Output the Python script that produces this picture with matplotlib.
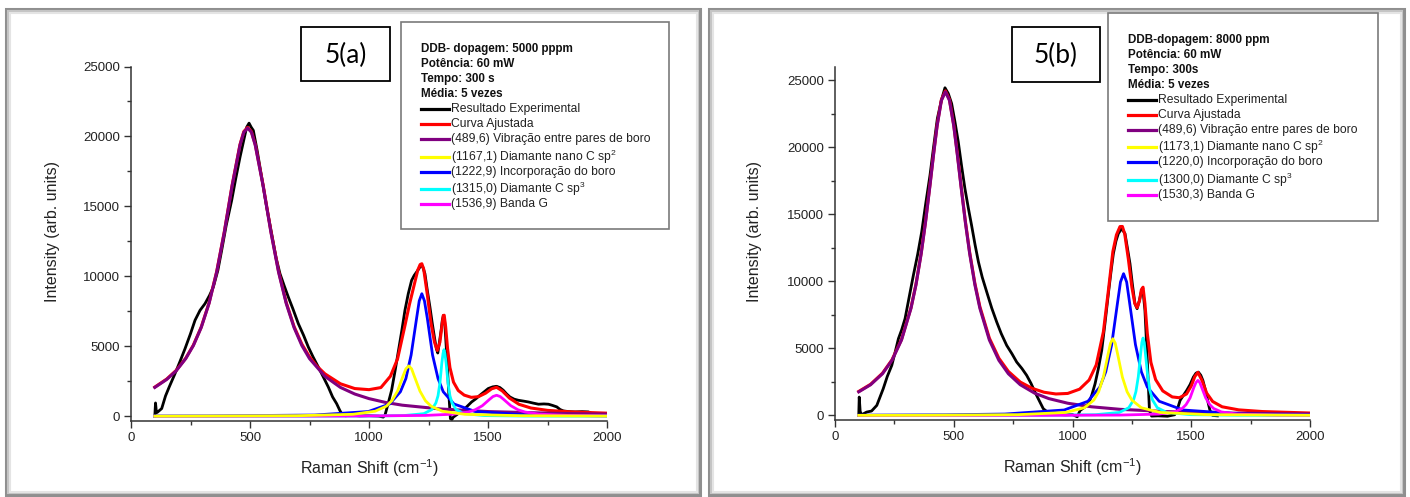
import matplotlib
matplotlib.use('Agg')
import matplotlib.pyplot as plt
from matplotlib.patches import Rectangle
from matplotlib.lines import Line2D
from matplotlib.ticker import MultipleLocator

plt.rcParams['font.family'] = ['Liberation Sans', 'DejaVu Sans']
plt.rcParams['mathtext.fontset'] = 'custom'
plt.rcParams['mathtext.rm'] = 'Liberation Sans'
plt.rcParams['mathtext.it'] = 'Liberation Sans:italic'
plt.rcParams['mathtext.bf'] = 'Liberation Sans:bold'

# ---------------- 5(a) : 5000 ppm ----------------
xa_exp = [100, 103, 107, 112, 129, 145, 160, 185, 205, 227,
          250, 269, 290, 311, 330, 346, 365, 381, 400, 423,
          440, 458, 475, 486, 496, 505, 514, 530, 549, 570,
          591, 610, 626, 643, 661, 680, 703, 725, 745, 765,
          787, 808, 829, 847, 864, 877, 885, 900, 930, 960,
          1000, 1040, 1060, 1067, 1080, 1095, 1110, 1124, 1138, 1151,
          1165, 1179, 1190, 1200, 1210, 1218, 1226, 1235, 1245, 1256,
          1266, 1277, 1283, 1289, 1296, 1303, 1308, 1313, 1318, 1322,
          1328, 1333, 1338, 1342, 1348, 1354, 1375, 1403, 1431, 1450,
          1466, 1485, 1501, 1520, 1536, 1550, 1564, 1578, 1592, 1610,
          1628, 1650, 1670, 1690, 1712, 1735, 1754, 1770, 1789, 1803,
          1817, 1840, 1866, 1895, 1922, 1936, 1942]
ya_exp = [0, 950, 250, 300, 550, 1450, 2070, 3050, 3880, 4830,
          5900, 6860, 7570, 8050, 8640, 9240, 10430, 11860, 13640, 15430,
          16980, 18520, 19830, 20660, 20950, 20660, 20430, 19000, 17090, 14950,
          13050, 11300, 10190, 9360, 8520, 7690, 6620, 5790, 4950, 4240,
          3520, 2810, 2090, 1380, 900, 430, 190, 30, 80, 20,
          40, 10, -60, 70, 880, 1860, 3290, 4710, 6140, 7570,
          8760, 9710, 10070, 10310, 10550, 10790, 10670, 10190, 9000, 7810,
          6620, 5430, 4830, 4520, 5310, 6140, 6860, 7210, 6740, 5670,
          4000, 2330, 900, -170, -240, -70, 190, 550, 1020, 1260,
          1500, 1760, 1980, 2100, 2140, 2050, 1860, 1600, 1380, 1220,
          1140, 1080, 1020, 940, 860, 880, 860, 780, 670, 480,
          380, 330, 310, 330, 310, 190, 150]

xa_ajuste = [100, 150, 190, 230, 262, 295, 328, 360, 392, 425,
             458, 474, 490, 506, 522, 555, 588, 620, 652, 685,
             718, 750, 780, 815, 880, 940, 1000, 1050, 1090, 1120,
             1150, 1170, 1190, 1205, 1215, 1222, 1230, 1245, 1260, 1275,
             1287, 1298, 1306, 1312, 1316, 1322, 1330, 1340, 1355, 1375,
             1400, 1430, 1460, 1490, 1515, 1536, 1560, 1590, 1630, 1680,
             1750, 1850, 2000]
ya_ajuste = [2085, 2660, 3280, 4150, 5085, 6375, 8105, 10340, 13180, 16525,
             19425, 20350, 20650, 20350, 19430, 16535, 13200, 10365, 8140, 6420,
             5150, 4250, 3600, 3030, 2320, 1980, 1900, 2050, 2860, 4100,
             6400, 8000, 9400, 10450, 10850, 10900, 10500, 8700, 6700, 5300,
             4700, 5300, 6400, 7200, 7220, 6400, 4850, 3480, 2440, 1840,
             1510, 1350, 1400, 1650, 1960, 2070, 1810, 1300, 855, 590,
             420, 310, 220]

xa_roxo = [100, 150, 190, 230, 262, 295, 328, 360, 392, 425, 458, 474, 490, 506, 522, 555,
           588, 620, 652, 685, 718, 750, 815, 880, 940, 1000, 1070, 1140, 1300, 1500, 1790, 2000]
ya_roxo = [2060, 2630, 3250, 4120, 5050, 6340, 8070, 10300, 13140, 16480, 19380, 20300, 20600, 20300, 19380, 16480,
           13140, 10300, 8070, 6340, 5050, 4120, 2850, 2060, 1590, 1260, 985, 790, 520, 335, 205, 150]

xa_amarelo = [100, 227, 697, 932, 1026, 1073, 1096, 1120, 1143, 1155, 1167, 1179, 1190, 1214, 1237, 1261, 1308, 1402, 1637, 2000]
ya_amarelo = [7, 9, 36, 139, 360, 720, 1110, 1800, 2880, 3390, 3600, 3390, 2880, 1800, 1110, 720, 360, 139, 36, 11]

xa_azul = [100, 322, 772, 997, 1087, 1132, 1155, 1177, 1200, 1211, 1222, 1233, 1245, 1267, 1290, 1312, 1357, 1447, 1672, 2000]
ya_azul = [14, 22, 87, 337, 876, 1752, 2695, 4380, 7008, 8243, 8760, 8243, 7008, 4380, 2695, 1752, 876, 337, 87, 29]

xa_ciano = [100, 975, 1145, 1230, 1264, 1281, 1290, 1298, 1306, 1311, 1315, 1319, 1324, 1332, 1340, 1349, 1366, 1400, 1485, 1655, 2000]
ya_ciano = [1, 12, 47, 183, 476, 952, 1465, 2380, 3808, 4480, 4760, 4480, 3808, 2380, 1465, 952, 476, 183, 47, 12, 3]

xa_magenta = [100, 336, 936, 1236, 1356, 1416, 1446, 1476, 1506, 1521, 1536, 1551, 1566, 1596, 1626, 1656, 1716, 1836, 2000]
ya_magenta = [3, 4, 15, 58, 150, 300, 462, 750, 1200, 1410, 1500, 1410, 1200, 750, 462, 300, 150, 58, 25]

# ---------------- 5(b) : 8000 ppm ----------------
xb_exp = [100, 102, 106, 112, 133, 154, 176, 203, 220, 239,
          253, 267, 281, 295, 312, 330, 348, 365, 382, 400,
          415, 431, 448, 463, 477, 491, 505, 519, 533, 547,
          561, 575, 590, 604, 620, 639, 660, 681, 700, 723,
          745, 765, 787, 807, 825, 842, 860, 877, 895, 912,
          940, 970, 1000, 1020, 1032, 1050, 1067, 1081, 1095, 1109,
          1123, 1137, 1151, 1162, 1172, 1183, 1193, 1207, 1221, 1231,
          1242, 1252, 1263, 1272, 1282, 1291, 1298, 1305, 1310, 1315,
          1320, 1324, 1333, 1360, 1400, 1430, 1440, 1453, 1467, 1481,
          1495, 1509, 1520, 1530, 1540, 1549, 1558, 1566, 1573, 1579,
          1590, 1610]
yb_exp = [0, 1370, 300, 50, 250, 330, 750, 1990, 2900, 3730,
          4700, 5720, 6400, 7220, 8800, 10450, 12000, 13680, 15800, 17910,
          20000, 22140, 23500, 24430, 24000, 23260, 21900, 20400, 18600, 16920,
          15500, 14180, 12700, 11440, 10300, 9200, 8000, 6960, 6100, 5220,
          4600, 3980, 3500, 2990, 2400, 1740, 1100, 500, 250, 130,
          80, 40, 60, -100, 370, 600, 870, 1500, 2360, 3500,
          4850, 6900, 9080, 10700, 12060, 13000, 13560, 13930, 13560, 12500,
          11320, 9800, 8330, 7960, 8600, 9330, 9100, 7840, 6000, 4100,
          2000, 370, -50, -30, -60, 50, 370, 1120, 1500, 1870,
          2300, 2860, 3150, 3230, 3000, 2610, 2000, 1370, 800, 370,
          0, -30]

xb_ajuste = [100, 150, 200, 240, 280, 320, 341, 363, 381, 400,
             415, 430, 448, 465, 482, 500, 515, 530, 549, 567,
             589, 610, 650, 690, 730, 780, 830, 880, 930, 980,
             1030, 1070, 1100, 1130, 1150, 1170, 1185, 1200, 1210, 1220,
             1235, 1250, 1262, 1272, 1282, 1290, 1297, 1305, 1315, 1330,
             1350, 1380, 1420, 1450, 1480, 1500, 1515, 1528, 1545, 1565,
             1590, 1630, 1700, 1800, 2000]
yb_ajuste = [1790, 2325, 3150, 4150, 5665, 8040, 9790, 12125, 14440, 17220,
             19510, 21650, 23545, 24200, 23550, 21660, 19530, 17245, 14470, 12160,
             9840, 8110, 5760, 4265, 3280, 2490, 2020, 1730, 1600, 1640,
             1960, 2640, 3770, 6230, 9150, 12220, 13460, 14080, 14090, 13520,
             11680, 9560, 8370, 8035, 8540, 9380, 9560, 8335, 6110, 3960,
             2670, 1830, 1380, 1320, 1600, 2200, 2900, 3210, 2620, 1665,
             1040, 645, 415, 290, 180]

xb_roxo = [100, 150, 200, 240, 280, 320, 341, 363, 381, 400, 415, 430, 448, 465, 482, 500, 515,
           530, 549, 567, 589, 610, 650, 690, 730, 780, 840, 900, 980, 1080, 1200, 1400, 1650, 2000]
yb_roxo = [1760, 2290, 3110, 4110, 5620, 7990, 9740, 12070, 14380, 17160, 19450, 21590, 23480, 24130, 23480, 21590, 19450,
           17160, 14380, 12070, 9740, 7990, 5620, 4110, 3110, 2290, 1665, 1257, 910, 645, 456, 284, 177, 106]

xb_amarelo = [100, 370, 770, 970, 1050, 1090, 1110, 1130, 1150, 1160, 1170, 1180, 1190, 1210, 1230, 1250, 1290, 1370, 1570, 2000]
yb_amarelo = [8, 14, 57, 220, 572, 1144, 1760, 2860, 4576, 5383, 5720, 5383, 4576, 2860, 1760, 1144, 572, 220, 57, 13]

xb_azul = [100, 465, 715, 965, 1065, 1115, 1140, 1165, 1190, 1202, 1215, 1228, 1240, 1265, 1290, 1315, 1365, 1465, 1715, 2000]
yb_azul = [21, 47, 105, 407, 1057, 2114, 3252, 5285, 8456, 9946, 10570, 9946, 8456, 5285, 3252, 2114, 1057, 407, 105, 43]

xb_ciano = [100, 897, 1097, 1197, 1237, 1257, 1267, 1277, 1287, 1292, 1297, 1302, 1307, 1317, 1327, 1337, 1357, 1397, 1497, 1697, 2000]
yb_ciano = [1, 14, 57, 222, 577, 1154, 1775, 2885, 4616, 5430, 5770, 5430, 4616, 2885, 1775, 1154, 577, 222, 57, 14, 5]

xb_magenta = [100, 868, 1198, 1363, 1429, 1462, 1478, 1495, 1511, 1520, 1528, 1536, 1544, 1561, 1578, 1594, 1627, 1693, 1858, 2000]
yb_magenta = [1, 7, 26, 100, 261, 522, 803, 1305, 2088, 2456, 2610, 2456, 2088, 1305, 803, 522, 261, 100, 26, 13]

# textos das legendas
cab_a = ['DDB- dopagem: 5000 pppm', 'Potência: 60 mW', 'Tempo: 300 s', 'Média: 5 vezes']
rot_a = ['Resultado Experimental', 'Curva Ajustada', '(489,6) Vibração entre pares de boro',
         '(1167,1) Diamante nano C sp$^{2}$', '(1222,9) Incorporação do boro',
         '(1315,0) Diamante C sp$^{3}$', '(1536,9) Banda G']
cab_b = ['DDB-dopagem: 8000 ppm', 'Potência: 60 mW', 'Tempo: 300s', 'Média: 5 vezes']
rot_b = ['Resultado Experimental', 'Curva Ajustada', '(489,6) Vibração entre pares de boro',
         '(1173,1) Diamante nano C sp$^{2}$', '(1220,0) Incorporação do boro',
         '(1300,0) Diamante C sp$^{3}$', '(1530,3) Banda G']

cores = ['black', '#ff0000', '#800080', '#ffff00', '#0000ff', '#00ffff', '#ff00ff']

W, H = 1410, 497


def fx(x):
    return x / W


def fy(y):
    return 1 - y / H


def moldura(fig, x0, y0, x1, y1):
    # borda cinza com leve sombra, como no print original
    for d, c, lw in [(0, '#8f8f8f', 2.2), (2, '#c4c4c4', 1.5), (3.5, '#e4e4e4', 1.5)]:
        fig.add_artist(Rectangle((fx(x0 + d), fy(y1 - d)), (x1 - x0 - 2 * d) / W, (y1 - y0 - 2 * d) / H,
                                 transform=fig.transFigure, fill=False, edgecolor=c, lw=lw))


def caixa_texto(fig, x0, y0, x1, y1, cor, lw):
    fig.add_artist(Rectangle((fx(x0), fy(y1)), (x1 - x0) / W, (y1 - y0) / H,
                             transform=fig.transFigure, fill=True, facecolor='white', edgecolor=cor, lw=lw, zorder=5))


def legenda(fig, x0, ys, cab, rot):
    for i, t in enumerate(cab):
        fig.text(fx(x0), fy(ys[i]), t, fontsize=8.4, fontweight='bold', va='center', color='#111111', zorder=6)
    for j, t in enumerate(rot):
        y = ys[len(cab) + j]
        fig.add_artist(Line2D([fx(x0), fx(x0 + 28)], [fy(y), fy(y)], transform=fig.transFigure,
                              color=cores[j], lw=2.3, zorder=6))
        fig.text(fx(x0 + 30), fy(y), t, fontsize=8.7, va='center', color='#222222', zorder=6)


def painel(ax, series, ytopo):
    ax.plot(series[0][0], series[0][1], color=cores[0], lw=2.0, zorder=2)
    ax.plot(series[1][0], series[1][1], color=cores[1], lw=2.2, zorder=3)
    ax.plot(series[2][0], series[2][1], color=cores[2], lw=2.2, zorder=4)
    for k in [4, 5, 6]:
        ax.plot(series[k][0], series[k][1], color=cores[k], lw=2.0, zorder=5)
    ax.plot(series[3][0], series[3][1], color=cores[3], lw=2.0, zorder=6)
    ax.set_xlim(0, 2000)
    ax.set_ylim(-340, ytopo)
    ax.xaxis.set_major_locator(MultipleLocator(500))
    ax.xaxis.set_minor_locator(MultipleLocator(250))
    ax.yaxis.set_major_locator(MultipleLocator(5000))
    ax.yaxis.set_minor_locator(MultipleLocator(2500))
    for s in ['top', 'right']:
        ax.spines[s].set_visible(False)
    for s in ['left', 'bottom']:
        ax.spines[s].set_linewidth(1.1)
        ax.spines[s].set_color('#333333')
    ax.tick_params(which='major', direction='out', length=5, width=1, labelsize=9.5,
                   colors='#333333', labelcolor='#222222', pad=3)
    ax.tick_params(which='minor', direction='out', length=3, width=1, colors='#333333')
    ax.set_facecolor('none')


fig = plt.figure(figsize=(14.1, 4.97), dpi=100)

moldura(fig, 6, 9, 700, 495)
moldura(fig, 709, 9, 1404, 495)

ax_a = fig.add_axes([fx(131), fy(421), 476 / W, (421 - 66.5) / H])
painel(ax_a, [(xa_exp, ya_exp), (xa_ajuste, ya_ajuste), (xa_roxo, ya_roxo), (xa_amarelo, ya_amarelo),
              (xa_azul, ya_azul), (xa_ciano, ya_ciano), (xa_magenta, ya_magenta)], 25000)

ax_b = fig.add_axes([fx(835), fy(420), 475 / W, (420 - 66.7) / H])
painel(ax_b, [(xb_exp, yb_exp), (xb_ajuste, yb_ajuste), (xb_roxo, yb_roxo), (xb_amarelo, yb_amarelo),
              (xb_azul, yb_azul), (xb_ciano, yb_ciano), (xb_magenta, yb_magenta)], 26000)

# rótulos dos eixos
for xl, yl, xx, yx in [(53, 232, 369, 468), (754, 232, 1072, 467)]:
    fig.text(fx(xl), fy(yl), 'Intensity (arb. units)', rotation=90, ha='center', va='center',
             fontsize=11.5, color='#222222')
    fig.text(fx(xx), fy(yx), 'Raman Shift (cm$^{-1}$)', ha='center', va='center',
             fontsize=11.5, color='#222222')

# caixas 5(a) / 5(b)
caixa_texto(fig, 301, 27, 390, 81, 'black', 1.3)
fig.text(fx(345.5), fy(55), '5(a)', ha='center', va='center', fontsize=19, family='Lato', zorder=6)
caixa_texto(fig, 1012, 27, 1100, 82, 'black', 1.3)
fig.text(fx(1056), fy(55), '5(b)', ha='center', va='center', fontsize=19, family='Lato', zorder=6)

# legendas
caixa_texto(fig, 401, 22, 669, 229, '#7a7a7a', 1.2)
legenda(fig, 421, [49, 64, 79, 94, 109, 124, 139, 157, 172, 189, 204], cab_a, rot_a)
caixa_texto(fig, 1108, 13, 1378, 221, '#7a7a7a', 1.2)
legenda(fig, 1128, [40, 55, 70, 85, 100, 115, 130, 147, 162, 180, 195], cab_b, rot_b)

fig.savefig('out.png', dpi=100)
